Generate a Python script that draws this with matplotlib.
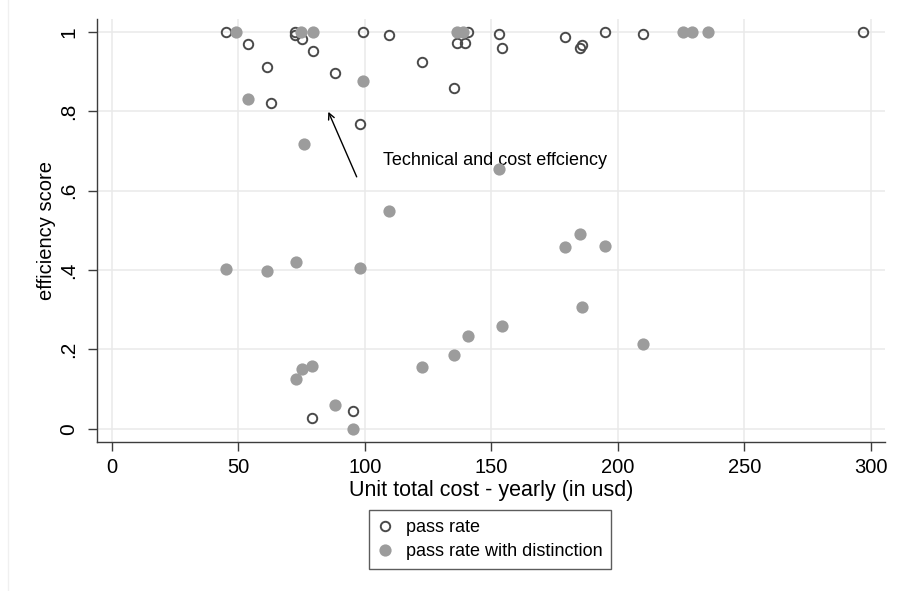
import matplotlib
matplotlib.use("Agg")
import matplotlib.pyplot as plt
from matplotlib.lines import Line2D

plt.rcParams['font.family'] = ['Liberation Sans', 'DejaVu Sans']

# Unit total cost (USD per year) and efficiency scores
pass_cost = [45.2, 53.8, 61.3, 63.0, 72.5, 72.5, 75.1, 79.7, 88.3, 99.4,
             109.7, 98.1, 122.5, 135.4, 140.7, 136.6, 139.6, 153.1, 154.4,
             179.2, 185.8, 185.1, 195.1, 210.1, 297.1, 95.3, 79.2]
pass_score = [1.0, 0.970, 0.913, 0.822, 1.0, 0.992, 0.982, 0.953, 0.897, 1.0,
              0.992, 0.769, 0.924, 0.860, 1.0, 0.973, 0.973, 0.995, 0.960,
              0.987, 0.967, 0.959, 1.0, 0.995, 1.0, 0.046, 0.027]

dist_cost = [49.0, 74.8, 79.7, 53.8, 99.4, 76.1, 136.6, 139.0, 225.9, 229.2,
             235.8, 153.2, 109.7, 179.3, 185.1, 195.1, 45.2, 61.3, 72.7, 98.1,
             186.0, 154.3, 140.6, 210.1, 135.4, 122.5, 79.2, 75.1, 73.0, 88.4,
             95.3]
dist_score = [1.0, 1.0, 1.0, 0.831, 0.876, 0.719, 1.0, 1.0, 1.0, 1.0,
              1.0, 0.654, 0.549, 0.459, 0.490, 0.460, 0.402, 0.397, 0.420, 0.405,
              0.308, 0.260, 0.233, 0.214, 0.186, 0.156, 0.158, 0.150, 0.126, 0.061,
              0.0]

x_ticks = [0, 50, 100, 150, 200, 250, 300]
y_ticks = [0, 0.2, 0.4, 0.6, 0.8, 1.0]
y_tick_labels = ["0", ".2", ".4", ".6", ".8", "1"]

series_labels = ["pass rate", "pass rate with distinction"]
note_text = "Technical and cost effciency"

hollow_edge = "#4a4a4a"
fill_gray = "#9c9c9c"
grid_gray = "#eaeaea"
axis_gray = "#3c3c3c"

hollow_style = dict(linestyle="none", marker="o", ms=6.8, mew=1.4,
                    mfc="none", mec=hollow_edge)
filled_style = dict(linestyle="none", marker="o", ms=8.8, mew=0,
                    mfc=fill_gray, mec=fill_gray)

fig = plt.figure(figsize=(8.98, 5.91), dpi=100)
fig.patch.set_facecolor("white")
ax = fig.add_axes([0.1084, 0.2526, 0.9855 - 0.1084, 0.9673 - 0.2526])

ax.plot(pass_cost, pass_score, zorder=3, **hollow_style)
ax.plot(dist_cost, dist_score, zorder=4, **filled_style)

ax.set_xlim(-5.7, 305.6)
ax.set_ylim(-0.0325, 1.032)
ax.set_xticks(x_ticks)
ax.set_yticks(y_ticks)
ax.set_yticklabels(y_tick_labels, rotation=90, va="center")

ax.grid(True, color=grid_gray, linewidth=1.1)
ax.set_axisbelow(True)

for side in ("top", "right"):
    ax.spines[side].set_visible(False)
for side in ("left", "bottom"):
    ax.spines[side].set_color(axis_gray)
    ax.spines[side].set_linewidth(1.0)

ax.tick_params(axis="both", direction="out", length=6.5, width=1.0,
               color=axis_gray, labelsize=14.5)
ax.tick_params(axis="x", pad=5.5)
ax.tick_params(axis="y", pad=7.5, labelsize=15)

ax.set_xlabel("Unit total cost - yearly (in usd)", fontsize=15.5, labelpad=2)
ax.set_ylabel("efficiency score", fontsize=14.5, labelpad=2)

ax.annotate("", xy=(85.6, 0.799), xytext=(96.8, 0.635),
            arrowprops=dict(arrowstyle="->", color="black", lw=1.0,
                            shrinkA=0, shrinkB=0, mutation_scale=11))
ax.text(107.3, 0.676, note_text, fontsize=13, va="center", ha="left")

handles = [Line2D([], [], **hollow_style), Line2D([], [], **filled_style)]
leg = fig.legend(handles, series_labels, loc="upper center",
                 bbox_to_anchor=(0.5458, 0.137), fontsize=13,
                 frameon=True, fancybox=False, edgecolor="#333333",
                 handlelength=0.8, handletextpad=0.75, borderpad=0.5,
                 labelspacing=0.38, borderaxespad=0)
leg.get_frame().set_linewidth(1.0)

# faint outer frame line along the left edge of the graph region
fig.add_artist(Line2D([8 / 898, 8 / 898], [0, 1], transform=fig.transFigure,
                      color="#f0f0f0", linewidth=1.0))

fig.savefig("out.png", dpi=100, facecolor="white")
